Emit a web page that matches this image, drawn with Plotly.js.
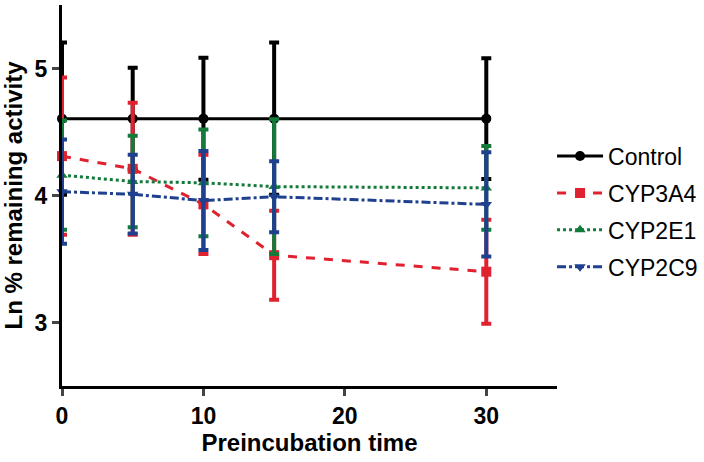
<!DOCTYPE html>
<html><head><meta charset="utf-8">
<script src="https://cdn.plot.ly/plotly-3.0.1.min.js"></script>
<style>html,body{margin:0;padding:0;background:#fff}#chart{width:704px;height:462px}</style>
</head><body><div id="chart"></div>
<script>
const times = [0, 5, 10, 15, 30];
const seriesNames = ['Control', 'CYP3A4', 'CYP2E1', 'CYP2C9'];
const control = [4.605, 4.605, 4.605, 4.605, 4.605];
const controlErr = [0.60, 0.40, 0.48, 0.60, 0.475];
const cyp3a4 = [4.31, 4.21, 3.93, 3.53, 3.40];
const cyp3a4Err = [0.62, 0.52, 0.39, 0.35, 0.41];
const cyp2e1 = [4.16, 4.11, 4.10, 4.07, 4.06];
const cyp2e1Err = [0.43, 0.36, 0.42, 0.53, 0.33];
const cyp2c9 = [4.03, 4.01, 3.96, 3.99, 3.93];
const cyp2c9Err = [0.41, 0.31, 0.39, 0.28, 0.41];

const yVals = [control, cyp3a4, cyp2e1, cyp2c9];
const yErrs = [controlErr, cyp3a4Err, cyp2e1Err, cyp2c9Err];
const colors = ['#000000', '#e0212f', '#137a3a', '#1f3f8f'];
const dashes = ['solid', 'dash', 'dot', 'dashdot'];
const symbols = ['circle', 'square', 'triangle-up', 'triangle-down'];

const FONT = 'Liberation Sans, Arial, sans-serif';
const traces = seriesNames.map((n, i) => ({
  x: times, y: yVals[i], name: n, type: 'scatter', mode: 'lines+markers',
  legendgroup: 'g' + i, cliponaxis: false,
  line: {color: colors[i], width: 3, dash: dashes[i]},
  marker: {color: colors[i], symbol: symbols[i], size: 10},
  error_y: {type: 'data', array: yErrs[i], visible: true, color: colors[i], thickness: 4, width: 5}
}));

const layout = {
  width: 704, height: 462,
  margin: {l: 62, r: 147, t: 5, b: 76, autoexpand: false},
  paper_bgcolor: '#ffffff', plot_bgcolor: '#ffffff',
  font: {family: FONT, color: '#000'},
  showlegend: true,
  legend: {x: 0.99, xanchor: 'left', y: 0.66, yanchor: 'top', traceorder: 'grouped', tracegroupgap: 4,
           font: {size: 23, family: FONT}, bgcolor: 'rgba(0,0,0,0)', itemwidth: 46},
  xaxis: {range: [0, 35], tickvals: [0, 10, 20, 30], ticks: 'outside', ticklen: 7, tickwidth: 3,
          showline: true, linewidth: 3, linecolor: '#000', showgrid: false, zeroline: false,
          automargin: false,
          tickfont: {size: 23, family: FONT, weight: 'bold'},
          title: {text: '<b>Preincubation time</b>', font: {size: 24, family: FONT}, standoff: 4}},
  yaxis: {range: [2.5, 5.5], tickvals: [3, 4, 5], ticks: 'outside', ticklen: 7, tickwidth: 3,
          showline: true, linewidth: 3, linecolor: '#000', showgrid: false, zeroline: false,
          automargin: false,
          tickfont: {size: 23, family: FONT, weight: 'bold'},
          title: {text: '<b>Ln % remaining activity</b>', font: {size: 24, family: FONT}, standoff: 6}}
};
Plotly.newPlot('chart', traces, layout, {displayModeBar: false, staticPlot: true});
</script></body></html>
